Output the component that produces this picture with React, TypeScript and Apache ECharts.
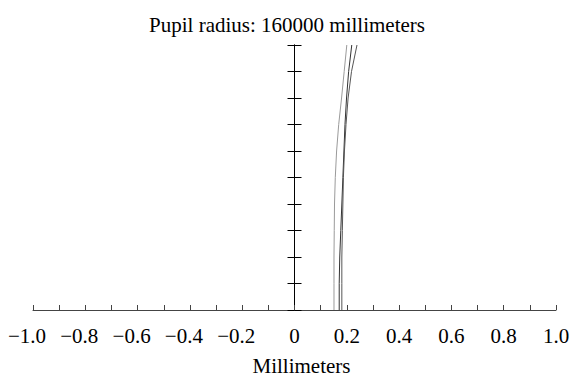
import React, { useEffect, useRef } from "react";
import * as echarts from "echarts";

const titleText = "Pupil radius: 160000 millimeters";
const xAxisName = "Millimeters";
const yLevels = [0, 0.1, 0.2, 0.3, 0.4, 0.5, 0.6, 0.7, 0.8, 0.9, 1.0];
const curveA = [0.151, 0.151, 0.151, 0.152, 0.153, 0.156, 0.161, 0.169, 0.18, 0.19, 0.2];
const curveB = [0.171, 0.171, 0.173, 0.177, 0.181, 0.185, 0.189, 0.193, 0.199, 0.207, 0.219];
const curveC = [0.181, 0.181, 0.181, 0.183, 0.185, 0.187, 0.191, 0.197, 0.205, 0.218, 0.239];
const curveColors = ["#9a9a9a", "#333333", "#555555"];

const FONT = "Liberation Serif";

export default function App() {
  const ref = useRef<HTMLDivElement>(null);
  useEffect(() => {
    if (!ref.current) return;
    const chart = echarts.init(ref.current, null, { renderer: "svg" });
    const curves = [curveA, curveB, curveC];
    const labelFmt = (v: number) => {
      if (Math.abs(v) < 1e-9) return "0";
      const s = Math.abs(v).toFixed(1);
      return v < 0 ? `{neg|\u2212${s}}` : s;
    };
    const yCommon = {
      type: "value",
      min: 0,
      max: 1,
      interval: 0.1,
      axisLabel: { show: false },
      splitLine: { show: false },
      axisLine: { show: true, onZero: true, onZeroAxisIndex: 0, lineStyle: { color: "#000", width: 1 } },
      axisTick: { show: true, inside: false, length: 7, lineStyle: { color: "#000", width: 1 } },
    };
    chart.setOption({
      animation: false,
      backgroundColor: "#fff",
      title: {
        text: titleText,
        left: "center",
        top: 9,
        textStyle: { fontFamily: FONT, fontSize: 21, fontWeight: "normal", color: "#000" },
      },
      grid: { left: 33, right: 18, top: 45, bottom: 59, containLabel: false },
      xAxis: {
        type: "value",
        min: -1,
        max: 1,
        interval: 0.2,
        name: xAxisName,
        nameLocation: "middle",
        nameGap: 45,
        nameTextStyle: { fontFamily: FONT, fontSize: 21, color: "#000", padding: [0, 0, 0, 14] },
        splitLine: { show: false },
        axisLine: { show: true, onZero: true, lineStyle: { color: "#444", width: 1 } },
        axisTick: { show: true, inside: true, length: 5, lineStyle: { color: "#444", width: 1 } },
        minorTick: { show: true, splitNumber: 2, length: 5, lineStyle: { color: "#444", width: 1 } },
        axisLabel: {
          formatter: labelFmt,
          margin: 15,
          fontFamily: FONT,
          fontSize: 21,
          color: "#000",
          rich: {
            neg: { fontFamily: FONT, fontSize: 21, color: "#000", padding: [0, 12, 0, 0] },
          },
        },
      },
      yAxis: [
        { ...yCommon, position: "left" },
        { ...yCommon, position: "right" },
      ],
      series: curves.map((c, i) => ({
        type: "line",
        xAxisIndex: 0,
        yAxisIndex: 0,
        showSymbol: false,
        symbol: "none",
        lineStyle: { color: curveColors[i], width: 1 },
        data: c.map((x, j) => [x, yLevels[j]]),
      })),
    });
    return () => chart.dispose();
  }, []);
  return (
    <div
      ref={ref}
      style={{ position: "fixed", left: 0, top: 0, width: 574, height: 381, background: "#fff" }}
    />
  );
}
